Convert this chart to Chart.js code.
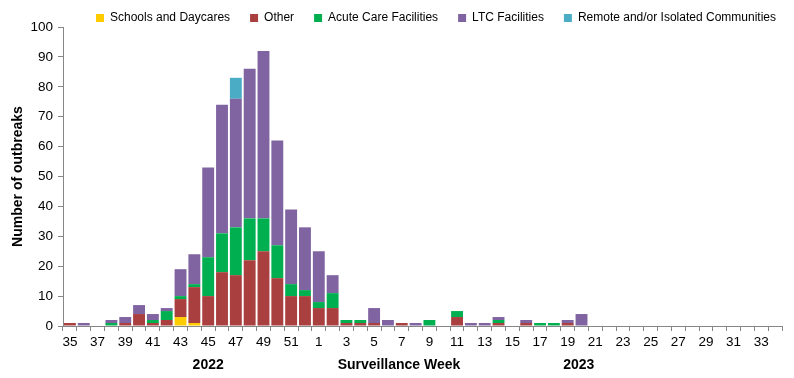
<!DOCTYPE html>
<html>
<head>
<meta charset="utf-8">
<script src="https://cdn.jsdelivr.net/npm/chart.js@4"></script>
<style>
  html, body { margin: 0; padding: 0; background: #fff; }
  #wrap { width: 794px; height: 378px; position: relative; }
</style>
</head>
<body>
<div id="wrap"><canvas id="c" width="794" height="378"></canvas></div>
<script>
// Surveillance weeks: 35..52 (2022) then 1..34 (2023)
const weeks = ['35','36','37','38','39','40','41','42','43','44','45','46','47','48','49','50','51','52',
               '1','2','3','4','5','6','7','8','9','10','11','12','13','14','15','16','17','18','19','20',
               '21','22','23','24','25','26','27','28','29','30','31','32','33','34'];

const schools = [0,0,0,0,0,0,0,0,3,1,0,0,0,0,0,0,0,0,
                 0,0,0,0,0,0,0,0,0,0,0,0,0,0,0,0,0,0,0,0,
                 0,0,0,0,0,0,0,0,0,0,0,0,0,0];
const other   = [1,0,0,0,1,4,1,2,6,12,10,18,17,22,25,16,10,10,
                 6,6,1,1,1,0,1,0,0,0,3,0,0,1,0,1,0,0,1,0,
                 0,0,0,0,0,0,0,0,0,0,0,0,0,0];
const acute   = [0,0,0,1,0,0,1,3,1,1,13,13,16,14,11,11,4,2,
                 2,5,1,1,0,0,0,0,2,0,2,0,0,1,0,0,1,1,0,0,
                 0,0,0,0,0,0,0,0,0,0,0,0,0,0];
const ltc     = [0,1,0,1,2,3,2,1,9,10,30,43,43,50,56,35,25,21,
                 17,6,0,0,5,2,0,1,0,0,0,1,1,1,0,1,0,0,1,4,
                 0,0,0,0,0,0,0,0,0,0,0,0,0,0];
const remote  = [0,0,0,0,0,0,0,0,0,0,0,0,7,0,0,0,0,0,
                 0,0,0,0,0,0,0,0,0,0,0,0,0,0,0,0,0,0,0,0,
                 0,0,0,0,0,0,0,0,0,0,0,0,0,0];

const seriesNames = ['Schools and Daycares','Other','Acute Care Facilities','LTC Facilities','Remote and/or Isolated Communities'];
const yTicks = [0,10,20,30,40,50,60,70,80,90,100];
const bottomLabels = [
  {text: '2022', at: 10},
  {text: 'Surveillance Week', at: 23.8},
  {text: '2023', at: 36.8}
];

const FONT = "'Liberation Sans', Arial, sans-serif";
const AXIS = '#868686';

const bottomText = {
  id: 'bottomText',
  afterDraw(chart) {
    const ctx = chart.ctx;
    const xs = chart.scales.x;
    ctx.save();
    ctx.font = 'bold 14px ' + FONT;
    ctx.fillStyle = '#000';
    ctx.textAlign = 'center';
    ctx.textBaseline = 'middle';
    bottomLabels.forEach(l => {
      ctx.fillText(l.text, xs.getPixelForValue(l.at), chart.chartArea.bottom + 39);
    });
    ctx.restore();
  }
};

const legendFix = {
  id: 'legendFix',
  beforeLayout(chart) {
    const lg = chart.legend;
    if (!lg || lg._patched) return;
    const origFit = lg.fit;
    lg.fit = function() {
      origFit.call(this);
      this.height = 27;
    };
    lg._patched = true;
  },
  afterLayout(chart) {
    const lg = chart.legend;
    if (!lg) return;
    lg.left += 45; lg.right += 45;
    lg.top -= 8;
  }
};

const colors = ['#FFCC00', '#A93F3E', '#00B050', '#8064A2', '#4BACC6'];
const data = [schools, other, acute, ltc, remote];

new Chart(document.getElementById('c'), {
  type: 'bar',
  data: {
    labels: weeks,
    datasets: data.map((d, i) => ({
      label: seriesNames[i],
      data: d,
      backgroundColor: colors[i],
      borderWidth: 0,
      barPercentage: 0.86,
      categoryPercentage: 1.0
    }))
  },
  options: {
    responsive: false,
    animation: false,
    devicePixelRatio: 1,
    layout: { padding: { left: 0, right: 12, top: 0, bottom: 0 } },
    plugins: {
      legend: {
        position: 'top',
        labels: {
          boxWidth: 8, boxHeight: 8, padding: 20,
          color: '#000',
          font: { family: FONT, size: 12 }
        }
      },
      tooltip: { enabled: false }
    },
    scales: {
      x: {
        stacked: true,
        grid: { display: true, drawOnChartArea: false, color: AXIS, tickLength: 5, offset: true },
        border: { color: AXIS, width: 1 },
        ticks: {
          autoSkip: false, maxRotation: 0, minRotation: 0, padding: 3,
          color: '#000', font: { family: FONT, size: 13.5 },
          callback: function(v, i) { return i % 2 === 0 ? weeks[i] : ''; }
        },
        afterFit(s) { s.height = 52; }
      },
      y: {
        stacked: true,
        min: 0, max: 100,
        afterBuildTicks(s) { s.ticks = yTicks.map(v => ({ value: v })); },
        grid: { display: true, drawOnChartArea: false, color: AXIS, tickLength: 5 },
        border: { color: AXIS, width: 1 },
        ticks: { padding: 5, color: '#000', font: { family: FONT, size: 13.5 } },
        title: {
          display: true, text: 'Number of outbreaks', color: '#000',
          font: { family: FONT, size: 14, weight: 'bold' },
          padding: { top: 10, bottom: 0 }
        },
        afterFit(s) { s.width = 63; }
      }
    }
  },
  plugins: [bottomText, legendFix]
});
</script>
</body>
</html>
